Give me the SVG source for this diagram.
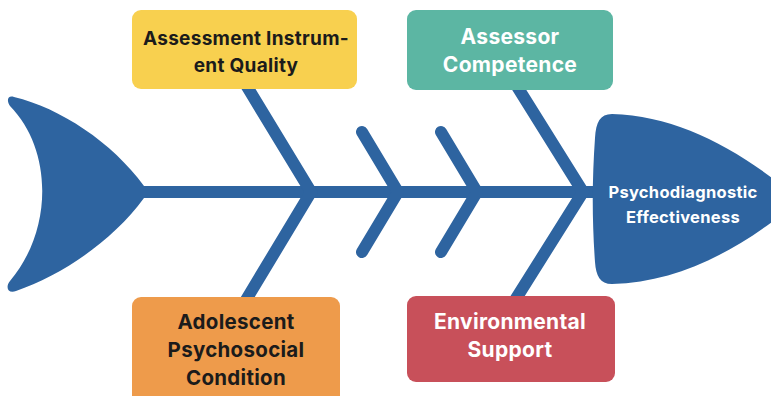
<svg xmlns="http://www.w3.org/2000/svg" width="771" height="396" viewBox="0 0 771 396">
  <style>
    .bone { stroke: #2E64A0; stroke-width: 12; stroke-linecap: round; fill: none; }
    .fish { fill: #2E64A0; }
    .box { rx: 9; ry: 9; }
    .lbl { font-family: Inter, "Open Sans", sans-serif; font-weight: 700; text-anchor: middle; letter-spacing: 0.3px; }
    .dark { fill: #1B1B1B; }
    .light { fill: #FFFFFF; }
  </style>
  <rect width="771" height="396" fill="#FFFFFF"/>

  <!-- spine, ribs and fins -->
  <g id="connectors">
    <line class="bone" x1="140" y1="192" x2="600" y2="192" stroke-width="13"/>
    <polyline class="bone" points="243,80 311,192 243,305" stroke-linecap="butt"/>
    <polyline class="bone" points="362,132 398,192 362,252" stroke-linejoin="round"/>
    <polyline class="bone" points="441,132 477,192 441,252" stroke-linejoin="round"/>
    <polyline class="bone" points="513,80 583,192 512,305" stroke-linecap="butt"/>
  </g>

  <!-- tail fin -->
  <g id="tail">
    <path class="fish" d="M 14 97 C 60 108, 112 142, 144 186 L 144 198 C 112 242, 60 276, 16 291 C 8 294, 5 287, 10 281 C 53 230, 53 150, 10 106 C 6 100, 8 95, 14 97 Z"/>
  </g>

  <!-- head: effect -->
  <g id="effect">
    <path class="fish" d="M 612 114 C 680 116, 740 150, 800 200 C 740 250, 680 282, 612 284 C 600 284, 596 276, 595 262 C 592 220, 592 180, 595 138 C 596 122, 600 114, 612 114 Z"/>
    <text class="lbl light" x="683" y="198" font-size="16.5" letter-spacing="0.2">Psychodiagnostic</text>
    <text class="lbl light" x="683" y="223" font-size="16.5" letter-spacing="0.2">Effectiveness</text>
  </g>

  <g id="instrument-quality">
    <rect class="box" x="132" y="10" width="225" height="79" fill="#F8D04F"/>
    <text class="lbl dark" x="246" y="45" font-size="19">Assessment Instrum-</text>
    <text class="lbl dark" x="246" y="72" font-size="19">ent Quality</text>
  </g>

  <g id="assessor-competence">
    <rect class="box" x="407" y="10" width="206" height="80" fill="#5CB6A3"/>
    <text class="lbl light" x="510" y="44" font-size="21">Assessor</text>
    <text class="lbl light" x="510" y="72" font-size="21">Competence</text>
  </g>

  <g id="psychosocial-condition">
    <rect class="box" x="132" y="297" width="208" height="110" fill="#EE9B4B"/>
    <text class="lbl dark" x="236" y="329" font-size="20.5">Adolescent</text>
    <text class="lbl dark" x="236" y="357" font-size="20.5">Psychosocial</text>
    <text class="lbl dark" x="236" y="385" font-size="20.5">Condition</text>
  </g>

  <g id="environmental-support">
    <rect class="box" x="407" y="296" width="208" height="86" fill="#C8505A"/>
    <text class="lbl light" x="510" y="329" font-size="21">Environmental</text>
    <text class="lbl light" x="510" y="357" font-size="21">Support</text>
  </g>
</svg>
